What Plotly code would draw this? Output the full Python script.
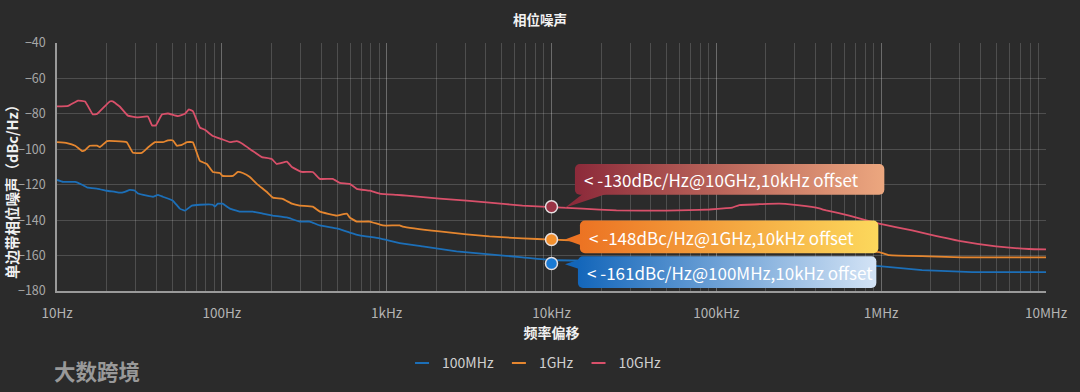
import base64
import plotly.graph_objects as go

# ---------------- data ----------------
freq_100m = [10, 10.9, 12.9, 14.2, 15.4, 17.7, 20.1, 22.5, 24.1, 25.8, 27.7, 29.7, 31.0, 35.1, 38.2,
             41.0, 43.9, 50.5, 55.6, 59.7, 65.8, 73.6, 88.2, 90.7, 94.6, 101, 112, 128, 154, 177,
             204, 248, 297, 341, 393, 498, 597, 686, 907, 1199, 1652, 2655, 4207, 6669, 10000,
             20000, 50000, 100000, 300000, 700000, 972600, 1771000, 3564000, 10000000]
pn_100m = [-117.3, -118.4, -118.4, -120, -121.7, -122.3, -123.4, -124, -124.5, -124, -122.9, -123.4, -125, -126.2, -126.8,
           -125.7, -126.8, -129, -133.5, -134.6, -131.8, -131.3, -131.3, -132.4, -130.7, -130.7, -133.5, -135.2, -135.2, -136.3,
           -137.4, -138.5, -140.8, -140.8, -143, -144.7, -147, -148.6, -150.3, -153, -154.8, -157.6, -159.3, -161, -162.5,
           -163, -163.5, -164, -165, -165.5, -166, -168.2, -169.3, -169.3]

freq_1g = [10, 11.5, 12.9, 14.2, 14.8, 15.8, 17.5, 18.2, 20.1, 22.5, 26.5, 28.9, 32.7, 35.6, 39.3,
           43.9, 47.1, 50.5, 53.3, 57.2, 61.4, 66.7, 73.6, 81.1, 88.2, 97.3, 101, 117, 125, 134,
           148, 163, 187, 204, 234, 266, 297, 356, 393, 498, 573, 597, 658, 789, 947,
           1199, 1251, 2094, 3055, 4207, 6669, 10000, 20000, 50000, 100000, 200000, 500000, 845900, 972600,
           1117000, 1953000, 3097000, 10000000]
pn_1g = [-96, -96.5, -98, -101, -100.5, -98, -98, -98.8, -95.4, -95.4, -96, -102, -102, -99, -96,
         -96, -95, -95, -98, -97.5, -96, -96, -106.6, -108.3, -112.8, -113.4, -115, -115, -112.8, -113.4,
         -115.6, -119.5, -124, -127.3, -128, -130.7, -131.8, -132.4, -135.2, -137.4, -136.3, -138.5, -140.8, -140.8, -143,
         -143, -143.6, -146.4, -148, -149.2, -150.3, -151, -152, -153.5, -154.5, -155.5, -157, -157.6, -158,
         -159.8, -160.4, -161, -161]

freq_10g = [10, 11.7, 13.4, 14.8, 16.5, 17.5, 20.9, 21.8, 24.1, 26.9, 30.5, 35.6, 37.7, 39.8, 43.3,
            47.1, 54.1, 59.7, 63.1, 66.7, 73.6, 78.9, 88.2, 100, 112, 123, 134, 154, 175, 201,
            215, 248, 266, 305, 356, 393, 471, 519, 597, 658, 789, 907, 1151, 1322, 2094,
            3055, 4207, 6669, 10000, 15410, 24770, 49770, 68500, 90780, 115000, 125000, 137800, 182300, 241100,
            289300, 403900, 464300, 640200, 845900, 972600, 1541000, 1953000, 3097000, 4977000, 7885000, 10000000]
pn_10g = [-75.8, -75.5, -72.5, -73, -80.3, -80, -73, -73, -76, -81, -82, -81.5, -86.5, -86.5, -80.3,
          -79.8, -81.3, -80, -77.5, -78.5, -87.7, -89, -92.5, -94.3, -96, -95.4, -97, -101, -104.4, -105.5,
          -108.3, -107, -110, -112.8, -112.8, -116.7, -116.7, -119, -119.5, -122.3, -123.4, -125, -125.7, -126.2, -127.9,
          -129, -130.1, -131.8, -132.6, -133.5, -134.5, -134.6, -134.4, -134, -133.2, -132.9, -131.5, -131, -130.7,
          -131.2, -133, -134.5, -137.4, -140.5, -142, -145.8, -148, -152, -154.8, -156.3, -156.5]

series_names = ["100MHz", "1GHz", "10GHz"]
series_colors = ["#1c6fb8", "#e5862f", "#d9506a"]

marker_freq = [10000, 10000, 10000]
marker_pn = [-164.5, -150.9, -132.4]
marker_fill = ["#1a7ad4", "#f2902e", "#9a3345"]
callout_text = ["< -161dBc/Hz@100MHz,10kHz offset",
                "< -148dBc/Hz@1GHz,10kHz offset",
                "< -130dBc/Hz@10GHz,10kHz offset"]

x_tick_vals = [10, 100, 1000, 10000, 100000, 1000000, 10000000]
x_tick_text = ["10Hz", "100Hz", "1kHz", "10kHz", "100kHz", "1MHz", "10MHz"]

# ---------------- layout helpers ----------------
W, H = 1080, 392
ML, MR, MT, MB = 57, 32, 43, 99
PW, PH = W - ML - MR, H - MT - MB


def px_x(p):
    return (p - ML) / PW


def px_y(p):
    return (H - MB - p) / PH


FONT = "Noto Sans CJK SC, Noto Sans, sans-serif"

fig = go.Figure()
data = [(freq_100m, pn_100m), (freq_1g, pn_1g), (freq_10g, pn_10g)]
for (fx, fy), name, col in zip(data, series_names, series_colors):
    fig.add_trace(go.Scatter(x=fx, y=fy, mode="lines", name=name, showlegend=False,
                             line=dict(color=col, width=1.8, shape="spline", smoothing=0.3),
                             hoverinfo="x+y"))

# legend proxies (short line symbol)
for name, col in zip(series_names, series_colors):
    fig.add_trace(go.Scatter(x=[None], y=[None], mode="markers", name=name,
                             marker=dict(symbol="line-ew", size=10, line=dict(color=col, width=2))))

# highlighted points
for fx, fy, fc in zip(marker_freq, marker_pn, marker_fill):
    fig.add_trace(go.Scatter(x=[fx], y=[fy], mode="markers", showlegend=False,
                             marker=dict(size=12, color=fc, line=dict(color="#e6e0e2", width=1.5))))


# callout boxes with gradient fills (drawn as SVG images), text as real annotations
def callout_svg(w, h, box, tri, c1, c2):
    bx, by, bw, bh = box
    pts = " ".join(f"{x},{y}" for x, y in tri)
    svg = (f'<svg xmlns="http://www.w3.org/2000/svg" width="{w}" height="{h}" viewBox="0 0 {w} {h}">'
           f'<defs><linearGradient id="g" gradientUnits="userSpaceOnUse" x1="{bx}" y1="0" x2="{bx + bw}" y2="0">'
           f'<stop offset="0" stop-color="{c1}"/><stop offset="1" stop-color="{c2}"/></linearGradient></defs>'
           f'<rect x="{bx}" y="{by}" width="{bw}" height="{bh}" rx="5" ry="5" fill="url(#g)"/>'
           f'<polygon points="{pts}" fill="url(#g)"/></svg>')
    return "data:image/svg+xml;base64," + base64.b64encode(svg.encode()).decode()


callouts = [
    # (region x0, y0, w, h, box, triangle, c1, c2, text center y)
    (560, 254, 320, 40, (19, 4, 299, 32), [(21, 7), (21, 17), (6, 12)], "#1366ba", "#d3e3f5", 274),
    (560, 218, 325, 40, (21, 4, 299, 33), [(22, 17), (22, 29), (6, 23)], "#ec7323", "#fcd85c", 239),
    (560, 160, 330, 55, (16, 5, 310, 31), [(24, 35), (48, 35), (6, 49)], "#8c2a3a", "#eca77f", 181),
]
images = []
for (x0, y0, w, h, box, tri, c1, c2, ty), txt in zip(callouts, callout_text):
    images.append(dict(source=callout_svg(w, h, box, tri, c1, c2), xref="paper", yref="paper",
                       x=px_x(x0), y=px_y(y0), sizex=w / PW, sizey=h / PH,
                       xanchor="left", yanchor="top", sizing="stretch", layer="above"))

annotations = []
for (x0, y0, w, h, box, tri, c1, c2, ty), txt in zip(callouts, callout_text):
    annotations.append(dict(text=txt, xref="paper", yref="paper", x=px_x(x0 + box[0] + 7), y=px_y(ty),
                            xanchor="left", yanchor="middle", showarrow=False,
                            font=dict(family=FONT, size=17, color="#ffffff")))

annotations.append(dict(text="单边带相位噪声（dBc/Hz）", xref="paper", yref="paper", x=px_x(12), y=px_y(190),
                        xanchor="center", yanchor="middle", textangle=-90, showarrow=False,
                        font=dict(family=FONT, size=14.5, color="#f0f0f0", weight="bold")))
annotations.append(dict(text="大数跨境", xref="paper", yref="paper", x=px_x(52), y=px_y(373),
                        xanchor="left", yanchor="middle", showarrow=False,
                        font=dict(family=FONT, size=21.5, color="rgba(190,190,190,0.75)", weight="bold")))

grid_col = "rgba(255,255,255,0.17)"
fig.update_layout(
    width=W, height=H,
    margin=dict(l=ML, r=MR, t=MT, b=MB),
    paper_bgcolor="#2b2b2b", plot_bgcolor="#2b2b2b",
    font=dict(family=FONT, color="#cccccc"),
    title=dict(text="相位噪声", x=0.5, xref="container", xanchor="center",
               y=1 - 20 / H, yref="container", yanchor="middle",
               font=dict(family=FONT, size=13.5, color="#f2f2f2", weight="bold")),
    xaxis=dict(type="log", range=[1, 7], tickvals=x_tick_vals, ticktext=x_tick_text,
               showgrid=True, gridcolor=grid_col, gridwidth=1,
               minor=dict(dtick="D1", showgrid=True, gridcolor=grid_col, gridwidth=1),
               showline=True, linecolor="#9a9a9a", linewidth=1.5, zeroline=False,
               ticks="", ticklabelstandoff=9,
               tickfont=dict(family=FONT, size=13.5, color="#b4b4b4"),
               title=dict(text="频率偏移", standoff=0,
                          font=dict(family=FONT, size=14, color="#f0f0f0", weight="bold"))),
    yaxis=dict(range=[-180, -40], dtick=20, showgrid=True, gridcolor=grid_col, gridwidth=1,
               showline=True, linecolor="#9a9a9a", linewidth=1.5, zeroline=False,
               ticks="", ticklabelstandoff=7,
               tickfont=dict(family=FONT, size=12.5, color="#a8a8a8")),
    legend=dict(orientation="h", x=px_x(535), xanchor="center", y=px_y(366), yanchor="middle",
                font=dict(family=FONT, size=14, color="#d0d0d0"), itemwidth=30,
                bgcolor="rgba(0,0,0,0)"),
    images=images,
    annotations=annotations,
    showlegend=True,
)

fig.write_html("out.html", config={"displayModeBar": False},
               post_script="document.body.style.margin='0';document.body.style.overflow='hidden';")
